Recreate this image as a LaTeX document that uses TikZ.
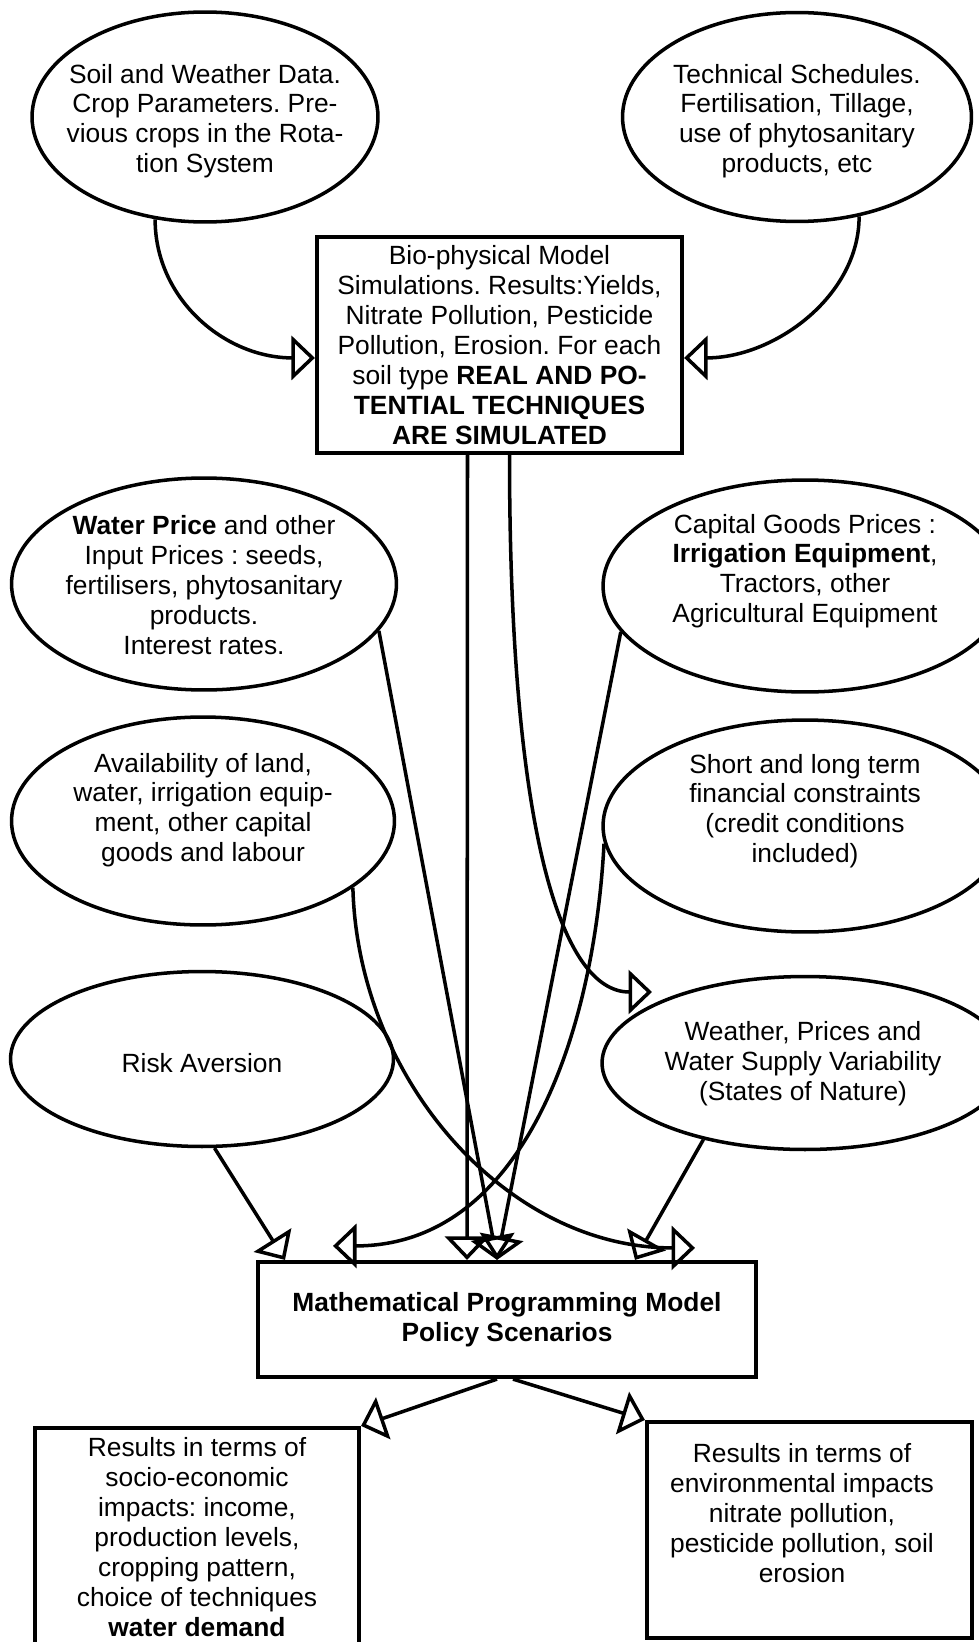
\documentclass[tikz,border=0pt]{standalone}
\usepackage{fontspec}
\setmainfont{Liberation Sans}
\usepackage{tikz}
\usetikzlibrary{shapes,arrows.meta,positioning,calc}
\frenchspacing

\tikzset{
  oval/.style={draw,ellipse,line width=2pt,inner sep=0pt},
  box/.style={draw,rectangle,line width=2.4pt,inner sep=0pt,align=center,font=\fontsize{15}{17}\selectfont},
  txt/.style={align=center,inner sep=0pt,font=\fontsize{15}{17}\selectfont},
  arr/.style={line width=2pt,-{Triangle[open,length=0.47cm,width=0.88cm]}}
}

\begin{document}
\begin{tikzpicture}[x=0.02cm,y=-0.02cm]
        \useasboundingbox (0,0) rectangle (978,1642);

        % Data for the bio-physical model
        \node[oval,minimum width=6.92cm,minimum height=4.2cm] (soil) at (205,117) {};
        \node[txt] (soilT) at (205,121) {Soil and Weather Data.\\ Crop Parameters. Pre-\\ vious crops in the Rota-\\ tion System};
        \node[oval,minimum width=6.98cm,minimum height=4.18cm] (tech) at (797,117) {};
        \node[txt] (techT) at (797,121) {Technical Schedules.\\ Fertilisation, Tillage,\\ use of phytosanitary\\ products, etc};

        % Bio-physical model
        \node[box,minimum width=7.3cm,minimum height=4.32cm] (bio) at (499.5,345) {
            Bio-physical Model\\ Simulations. Results:Yields,\\ Nitrate Pollution, Pesticide\\ Pollution, Erosion. For each\\ soil type \textbf{REAL AND PO-}\\ \textbf{TENTIAL TECHNIQUES}\\ \textbf{ARE SIMULATED}
        };

        % Economic data
        \node[oval,minimum width=7.7cm,minimum height=4.24cm] (water) at (204,584) {};
        \node[txt] (waterT) at (204,585) {\textbf{Water Price} and other\\ Input Prices : seeds,\\ fertilisers, phytosanitary\\ products.\\ Interest rates.};
        \node[oval,minimum width=8.08cm,minimum height=4.24cm] (cap) at (805,586) {};
        \node[txt] (capT) at (805,571) {Capital Goods Prices :\\ \textbf{Irrigation Equipment},\\ Tractors, other\\ Agricultural Equipment};
        \node[oval,minimum width=7.66cm,minimum height=4.16cm] (avail) at (203,821) {};
        \node[txt] (availT) at (203,810) {Availability of land,\\ water, irrigation equip-\\ ment, other capital\\ goods and labour};
        \node[oval,minimum width=8.08cm,minimum height=4.24cm] (short) at (805,826) {};
        \node[txt] (shortT) at (805,811) {Short and long term\\ financial constraints\\ (credit conditions\\ included)};
        \node[oval,minimum width=7.66cm,minimum height=3.5cm] (risk) at (202,1059) {};
        \node[txt] (riskT) at (202,1063) {Risk Aversion};
        \node[oval,minimum width=8.12cm,minimum height=3.46cm] (weather) at (805,1063) {};
        \node[txt] (weatherT) at (803,1064) {Weather, Prices and\\ Water Supply Variability\\ (States of Nature)};

        % Programming model and results
        \node[box,minimum width=9.96cm,minimum height=2.3cm,font=\fontsize{15}{17}\selectfont\bfseries] (math) at (507,1319.5) {
            Mathematical Programming Model\\ Policy Scenarios
        };
        \node[box,minimum width=6.48cm,minimum height=4.36cm] (res1) at (197,1537) {
            Results in terms of\\ socio-economic\\ impacts: income,\\ production levels,\\ cropping pattern,\\ choice of techniques\\ \textbf{water demand}
        };
        \node[box,minimum width=6.5cm,minimum height=4.32cm] (res2) at (809.5,1530) {};
        \node[txt] (res2T) at (802,1513) {Results in terms of\\ environmental impacts\\ nitrate pollution,\\ pesticide pollution, soil\\ erosion};

        % Free arrow ends
        \coordinate (wIn) at ($(weather.center)+(-153,-71)$);
        \coordinate (mpL) at ($(math.north)+(-174,-14)$);
        \coordinate (mpR) at ($(math.north)+(188,-12)$);

        % Arrows
        \draw[arr] (soil.244) .. controls +(0,80) and +(-90,0) .. (bio.184);
        \draw[arr] (tech.302) .. controls +(0,80) and +(90,0) .. (bio.-4);
        \draw[arr] ($(bio.south)+(-32,0)$) -- ($(math.north)+(-40,0)$);
        \draw[arr] ($(bio.south)+(10,0)$) .. controls +(0,380) and +(-90,0) .. (wIn);
        \draw[arr] (water.-15) -- ($(math.north)+(-10,0)$);
        \draw[arr] (cap.194) -- ($(math.north)+(-10,0)$);
        \draw[arr] (avail.-24) .. controls +(5,190) and +(-190,0) .. (mpR);
        \draw[arr] (short.185) .. controls +(-10,190) and +(190,0) .. (mpL);
        \draw[arr] (risk.-82) -- ($(math.north)+(-222,0)$);
        \draw[arr] (weather.217) -- ($(math.north)+(128,0)$);
        \draw[arr] ($(math.south)+(-10,0)$) -- (res1.north east);
        \draw[arr] ($(math.south)+(6,0)$) -- (res2.north west);
    \end{tikzpicture}
\end{document}
